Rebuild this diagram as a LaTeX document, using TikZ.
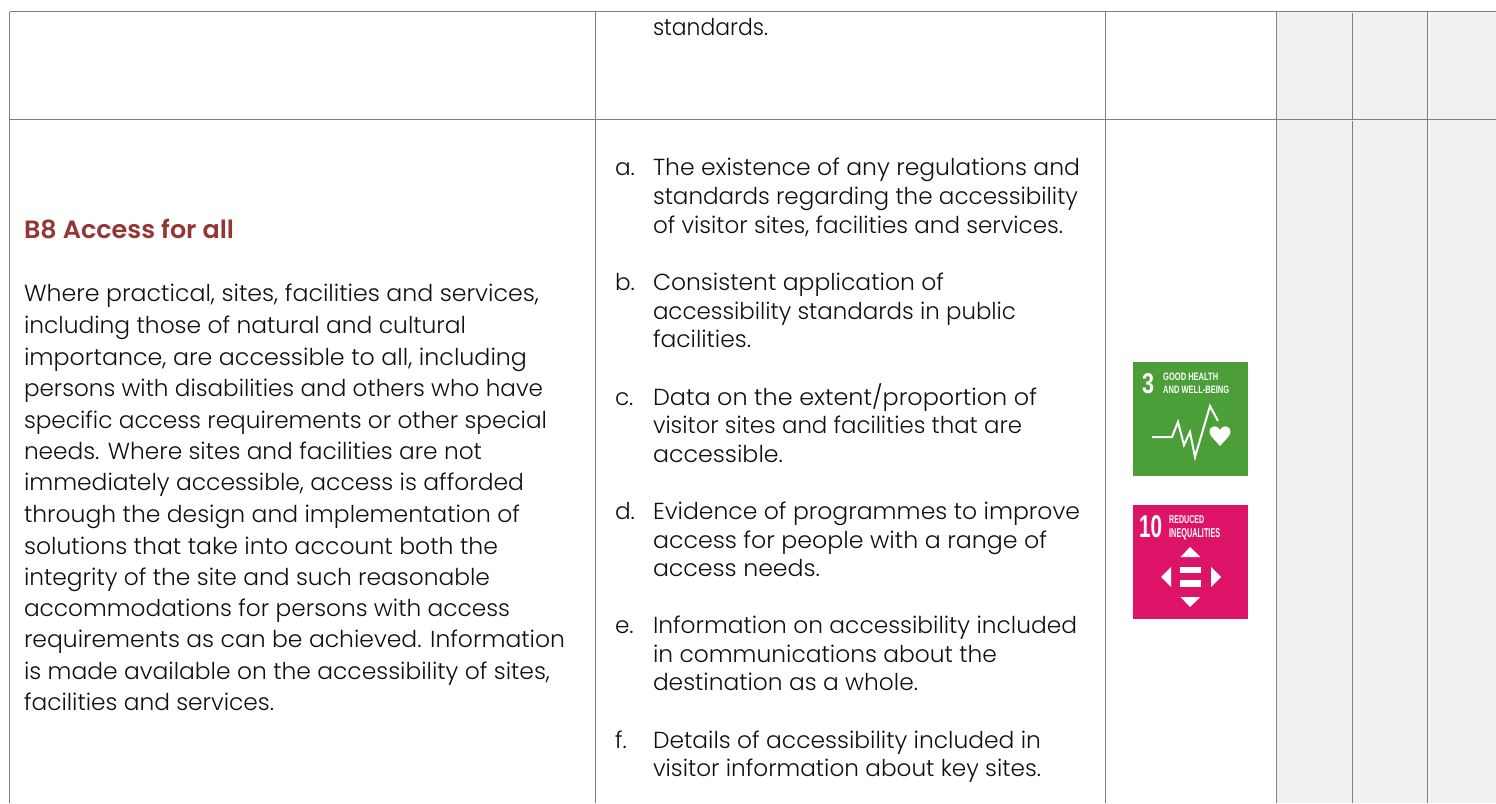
\documentclass[tikz,border=0pt]{standalone}
\usepackage{fontspec}
\usepackage{graphicx}
\setmainfont{Poppins}[UprightFont=* Light,BoldFont=* SemiBold]
\newfontfamily\icf{Liberation Sans}[BoldFont=* Bold]
\definecolor{gridgray}{HTML}{7F7F7F}
\definecolor{shadecell}{HTML}{F1F1F1}
\definecolor{bodyink}{HTML}{101010}
\definecolor{headink}{HTML}{943634}
\definecolor{sdggreen}{HTML}{4C9F38}
\definecolor{sdgpink}{HTML}{DD1367}
\tikzset{x=1pt,y=-1pt,
 grid/.style={draw=gridgray,line width=1pt},
 txt/.style={anchor=base west,inner sep=0pt,outer sep=0pt,text=bodyink,font=\fontsize{23.2}{28}\selectfont},
 ic/.style={anchor=north west,inner sep=0pt,text=white,font=\icf\bfseries},
 sym/.style={fill=white,draw=none},
 pulse/.style={draw=white,line width=2pt,line join=miter}}
% name, x, baseline y, line width, text
\newcommand{\lin}[5]{\node[txt] (#1) at (#2,#3) {\resizebox{#4pt}{\height}{#5}};}
\newcommand{\lab}[4]{\node[txt] (#1) at (#2,#3) {#4};}
\newcommand{\fit}[6]{\node[ic] (#1) at (#2,#3) {\resizebox{#4pt}{#5pt}{#6}};}
\begin{document}
\begin{tikzpicture}
\useasboundingbox (0,0) rectangle (1496,803);
\fill[white] (0,0) rectangle (1496,803);
\fill[shadecell] (1277,12) rectangle (1496,803);
\draw[grid] (9.5,11.5) -- (1496,11.5);
\draw[grid] (9.5,119.5) -- (1496,119.5);
\foreach \c in {9.5,595.5,1105.5,1276.5,1427.5} \draw[grid] (\c,11.5) -- (\c,803);
\draw[grid] (1352.5,13) -- (1352.5,119); \draw[grid] (1352.5,121) -- (1352.5,803);
\draw[white,line width=1pt] (1429,12) -- (1429,119) (1429,120.5) -- (1429,803);
% left
\lin{h}{24}{238}{210}{\fontsize{25}{28}\selectfont\bfseries\color{headink}B8 Access for all}
\lin{l1}{24}{301}{515}{Where practical, sites, facilities and services,}
\lin{l2}{24}{333}{442}{including those of natural and cultural}
\lin{l3}{24}{365}{503}{importance, are accessible to all, including}
\lin{l4}{24}{396}{519}{persons with disabilities and others who have}
\lin{l5}{24}{428}{523}{specific access requirements or other special}
\lin{l6}{24}{459}{458}{needs. Where sites and facilities are not}
\lin{l7}{24}{490}{500}{immediately accessible, access is afforded}
\lin{l8}{24}{522}{496}{through the design and implementation of}
\lin{l9}{24}{554}{474}{solutions that take into account both the}
\lin{l10}{24}{585}{466}{integrity of the site and such reasonable}
\lin{l11}{24}{616}{486}{accommodations for persons with access}
\lin{l12}{24}{647}{541}{requirements as can be achieved. Information}
\lin{l13}{24}{679}{526}{is made available on the accessibility of sites,}
\lin{l14}{24}{710}{250}{facilities and services.}
% middle
\lin{m0}{653}{35}{115}{standards.}
\lab{ma}{615}{175}{a.}\lin{ma1}{653}{175}{427}{The existence of any regulations and}
\lin{ma2}{653}{204}{425}{standards regarding the accessibility}
\lin{ma3}{653}{233}{410}{of visitor sites, facilities and services.}
\lab{mb}{615}{290}{b.}\lin{mb1}{653}{290}{291}{Consistent application of}
\lin{mb2}{653}{319}{363}{accessibility standards in public}
\lin{mb3}{653}{347}{98}{facilities.}
\lab{mc}{615}{405}{c.}\lin{mc1}{653}{405}{384}{Data on the extent/proportion of}
\lin{mc2}{653}{433}{369}{visitor sites and facilities that are}
\lin{mc3}{653}{462}{130}{accessible.}
\lab{md}{615}{519}{d.}\lin{md1}{653}{519}{427}{Evidence of programmes to improve}
\lin{md2}{653}{548}{394}{access for people with a range of}
\lin{md3}{653}{576}{167}{access needs.}
\lab{me}{615}{633}{e.}\lin{me1}{653}{633}{424}{Information on accessibility included}
\lin{me2}{653}{662}{344}{in communications about the}
\lin{me3}{653}{690}{265}{destination as a whole.}
\lab{mf}{615}{748}{f.}\lin{mf1}{653}{748}{388}{Details of accessibility included in}
\lin{mf2}{653}{776}{388}{visitor information about key sites.}
% green icon
\fill[sdggreen] (1133,362) rectangle (1248,476);
\fit{g3}{1142}{373}{12}{20}{3}
\fit{g1}{1163}{373}{55}{7.5}{GOOD HEALTH}
\fit{g2}{1163}{386}{66}{7.5}{AND WELL-BEING}
\draw[pulse] (1152,437) -- (1172,437) -- (1178,422) -- (1184,445) -- (1190,432) -- (1195,457) -- (1210,406) -- (1218,421);
\fill[white] (1220,446) .. controls (1216,441) and (1209.5,436) .. (1209.5,432) .. controls (1209.5,425) and (1218,424.5) .. (1220,430) .. controls (1222,424.5) and (1230.5,425) .. (1230.5,432) .. controls (1230.5,436) and (1224,441) .. (1220,446) -- cycle;
% pink icon
\fill[sdgpink] (1133,505) rectangle (1248,619);
\fit{p10}{1139}{515}{23}{22}{10}
\fit{p1}{1169}{515}{35}{8}{REDUCED}
\fit{p2}{1169}{528}{51}{9}{INEQUALITIES}
\fill[sym] (1180.5,557) -- (1190,547) -- (1200.5,557) -- cycle;
\fill[sym] (1180.5,597) -- (1190,607) -- (1200.5,597) -- cycle;
\fill[sym] (1171,567) -- (1161,577) -- (1171,587) -- cycle;
\fill[sym] (1211,567) -- (1221,577) -- (1211,587) -- cycle;
\fill[sym] (1180,567) rectangle (1201,573);
\fill[sym] (1180,580) rectangle (1201,587);
\end{tikzpicture}
\end{document}
